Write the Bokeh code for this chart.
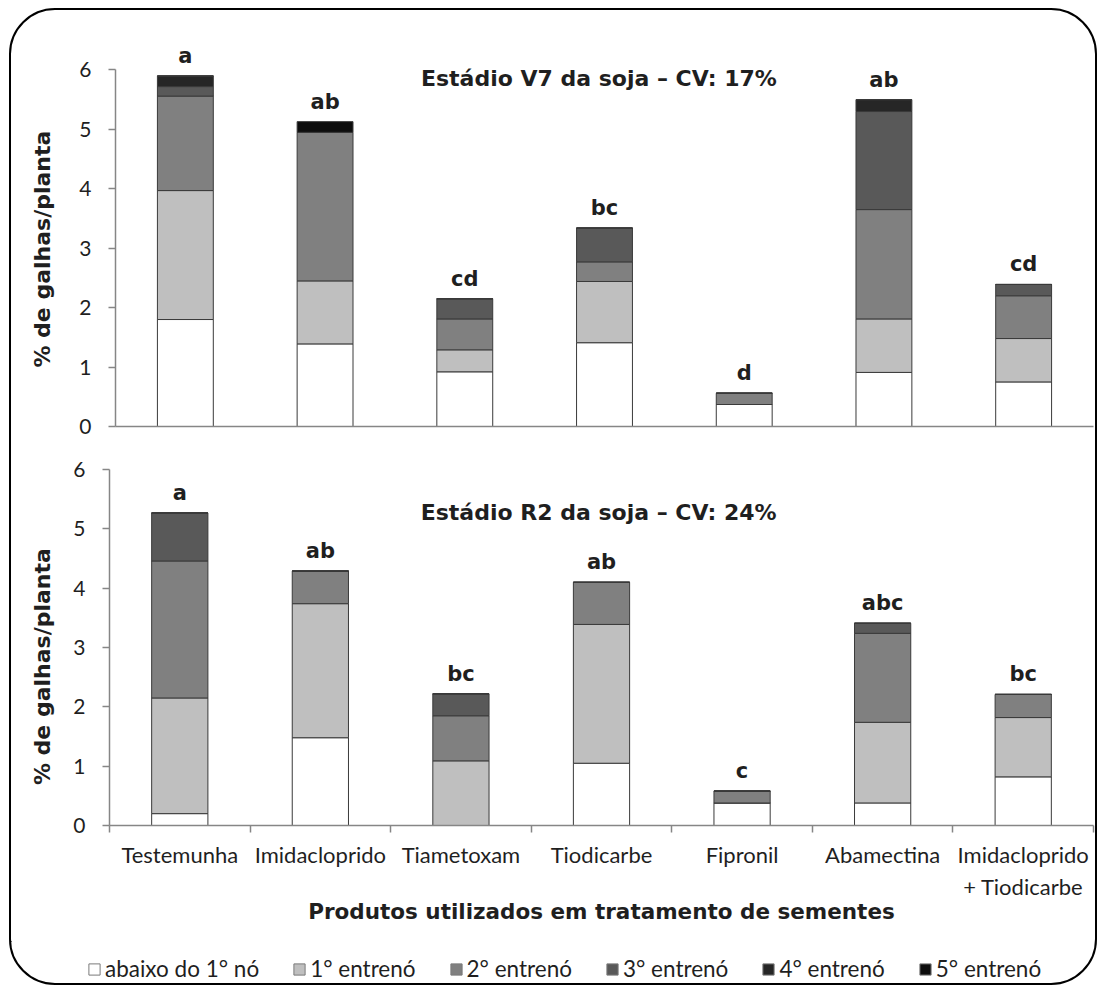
from bokeh.plotting import figure
from bokeh.models import (ColumnDataSource, Range1d, FixedTicker, LabelSet, Label,
                          Legend, LegendItem)
from bokeh.core.properties import value
from bokeh.layouts import column, row
from bokeh.embed import file_html
from bokeh.resources import INLINE

# ---------------- data ----------------
products = ["Testemunha", "Imidacloprido", "Tiametoxam", "Tiodicarbe",
            "Fipronil", "Abamectina", "Imidacloprido\n+ Tiodicarbe"]
layers = ["abaixo do 1° nó", "1° entrenó", "2° entrenó", "3° entrenó",
          "4° entrenó", "5° entrenó"]
colors = ["#FFFFFF", "#BFBFBF", "#808080", "#595959", "#262626", "#0D0D0D"]

v7_abaixo = [1.80, 1.39, 0.92, 1.41, 0.37, 0.91, 0.75]
v7_ent1 = [2.17, 1.06, 0.37, 1.03, 0.00, 0.90, 0.73]
v7_ent2 = [1.59, 2.50, 0.52, 0.33, 0.19, 1.84, 0.72]
v7_ent3 = [0.16, 0.00, 0.34, 0.57, 0.00, 1.65, 0.19]
v7_ent4 = [0.18, 0.00, 0.00, 0.00, 0.00, 0.20, 0.00]
v7_ent5 = [0.00, 0.18, 0.00, 0.00, 0.00, 0.00, 0.00]
v7_letters = ["a", "ab", "cd", "bc", "d", "ab", "cd"]
v7_title = "Estádio V7 da soja – CV: 17%"

r2_abaixo = [0.20, 1.48, 0.00, 1.05, 0.38, 0.38, 0.82]
r2_ent1 = [1.95, 2.26, 1.09, 2.34, 0.00, 1.36, 1.00]
r2_ent2 = [2.31, 0.55, 0.76, 0.71, 0.20, 1.50, 0.39]
r2_ent3 = [0.81, 0.00, 0.37, 0.00, 0.00, 0.17, 0.00]
r2_ent4 = [0.00, 0.00, 0.00, 0.00, 0.00, 0.00, 0.00]
r2_ent5 = [0.00, 0.00, 0.00, 0.00, 0.00, 0.00, 0.00]
r2_letters = ["a", "ab", "bc", "ab", "c", "abc", "bc"]
r2_title = "Estádio R2 da soja – CV: 24%"

y_ticks = [0, 1, 2, 3, 4, 5, 6]
y_label = "% de galhas/planta"
x_label = "Produtos utilizados em tratamento de sementes"

# ---------------- style ----------------
AXIS_COL = "#868686"
TXT = "#1f1f1f"
BOLD_FONT = "DejaVu Sans"
REG_FONT = "Lato"
FIG_W = 1084
keys = ["s0", "s1", "s2", "s3", "s4", "s5"]
# non-breaking spaces pad the axis title so it centres on the 0-6 span
YLAB_PAD = "\u00a0" * 8


def make_fig(vals, letters, title, title_x, title_y, height, y_top,
             border_bottom, border_left, ylab_standoff, bottom_axis):
    n = len(products)
    xs = [i + 0.5 for i in range(n)]
    data = {"x": xs}
    for k, v in zip(keys, vals):
        data[k] = v
    data["total"] = [sum(col[i] for col in vals) for i in range(n)]
    data["letter"] = letters
    src = ColumnDataSource(data)

    p = figure(width=FIG_W, height=height, x_range=Range1d(0, n),
               y_range=Range1d(0, y_top), output_backend="svg",
               toolbar_location=None, min_border_left=border_left,
               min_border_right=2, min_border_top=0,
               min_border_bottom=border_bottom)
    p.outline_line_color = None
    p.grid.visible = False
    p.background_fill_color = None
    p.border_fill_color = None

    p.vbar_stack(keys, x="x", width=0.4, source=src, fill_color=colors,
                 line_color="#3a3a3a", line_width=1)

    labels = LabelSet(x="x", y="total", text="letter", source=src,
                      text_align="center", text_baseline="alphabetic",
                      y_offset=13, text_font=value(BOLD_FONT),
                      text_font_style="bold", text_font_size="21px",
                      text_color=TXT)
    p.add_layout(labels)

    p.add_layout(Label(x=title_x, y=title_y, text=title, text_align="center",
                       text_baseline="alphabetic", text_font=BOLD_FONT,
                       text_font_style="bold", text_font_size="22px",
                       text_color=TXT))

    # y axis
    yax = p.yaxis[0]
    yax.bounds = (0, 6)
    yax.ticker = FixedTicker(ticks=y_ticks)
    yax.axis_line_color = AXIS_COL
    yax.axis_line_width = 1.5
    yax.major_tick_line_color = AXIS_COL
    yax.major_tick_line_width = 1.5
    yax.major_tick_out = 7
    yax.major_tick_in = 0
    yax.minor_tick_line_color = None
    yax.major_label_text_font = REG_FONT
    yax.major_label_text_font_size = "21px"
    yax.major_label_text_color = TXT
    yax.major_label_standoff = 17
    yax.axis_label = y_label + YLAB_PAD
    yax.axis_label_text_font = BOLD_FONT
    yax.axis_label_text_font_style = "bold"
    yax.axis_label_text_font_size = "22px"
    yax.axis_label_text_color = TXT
    yax.axis_label_standoff = ylab_standoff

    # x axis
    xax = p.xaxis[0]
    xax.axis_line_color = AXIS_COL
    xax.axis_line_width = 1.5
    xax.major_tick_line_color = None
    xax.major_tick_out = 0
    xax.major_tick_in = 0
    if bottom_axis:
        xax.ticker = FixedTicker(ticks=xs, minor_ticks=list(range(n + 1)))
        xax.major_label_overrides = {x: lab for x, lab in zip(xs, products)}
        xax.minor_tick_line_color = AXIS_COL
        xax.minor_tick_line_width = 1.5
        xax.minor_tick_out = 7
        xax.minor_tick_in = 0
        xax.major_label_text_font = REG_FONT
        xax.major_label_text_font_size = "22px"
        xax.major_label_text_color = TXT
        xax.major_label_standoff = 8
        xax.axis_label = x_label
        xax.axis_label_text_font = BOLD_FONT
        xax.axis_label_text_font_style = "bold"
        xax.axis_label_text_font_size = "21.5px"
        xax.axis_label_text_color = TXT
        xax.axis_label_standoff = -4
    else:
        xax.ticker = FixedTicker(ticks=[])
        xax.minor_tick_line_color = None
        xax.major_label_text_font_size = "0px"
        xax.major_label_standoff = 0
    return p, src


top, _ = make_fig([v7_abaixo, v7_ent1, v7_ent2, v7_ent3, v7_ent4, v7_ent5],
                  v7_letters, v7_title, 3.46, 5.86, 436, 7.0, 20, 104, 21,
                  False)
bot, bot_src = make_fig([r2_abaixo, r2_ent1, r2_ent2, r2_ent3, r2_ent4, r2_ent5],
                        r2_letters, r2_title, 3.48, 5.28, 495, 6.39, 116, 98,
                        15, True)

# legend strip: its renderers share the R2 data but lie outside its view
leg = figure(width=FIG_W, height=42, x_range=Range1d(100, 101),
             y_range=Range1d(-3, -2), output_backend="svg",
             toolbar_location=None, min_border_left=0, min_border_right=0,
             min_border_top=0, min_border_bottom=0)
leg.axis.visible = False
leg.grid.visible = False
leg.outline_line_color = None
leg.background_fill_color = None
leg.border_fill_color = None
leg_rs = leg.vbar_stack(keys, x="x", width=0.4, source=bot_src,
                        fill_color=colors, line_color="#7a7a7a", line_width=1)
legend = Legend(items=[LegendItem(label=lab, renderers=[r])
                       for lab, r in zip(layers, leg_rs)],
                orientation="horizontal", location=(76, 1),
                label_text_font=REG_FONT, label_text_font_size="22.5px",
                label_text_color=TXT, glyph_width=14, glyph_height=14,
                label_standoff=4, spacing=33, padding=0, margin=0,
                border_line_color=None, background_fill_alpha=0)
leg.add_layout(legend)

layout = column(row(top), row(bot), row(leg),
                styles={"border": "2px solid #000", "border-radius": "46px",
                        "margin-left": "9px", "margin-top": "8px"})

open("out.html", "w").write(file_html(layout, INLINE))
